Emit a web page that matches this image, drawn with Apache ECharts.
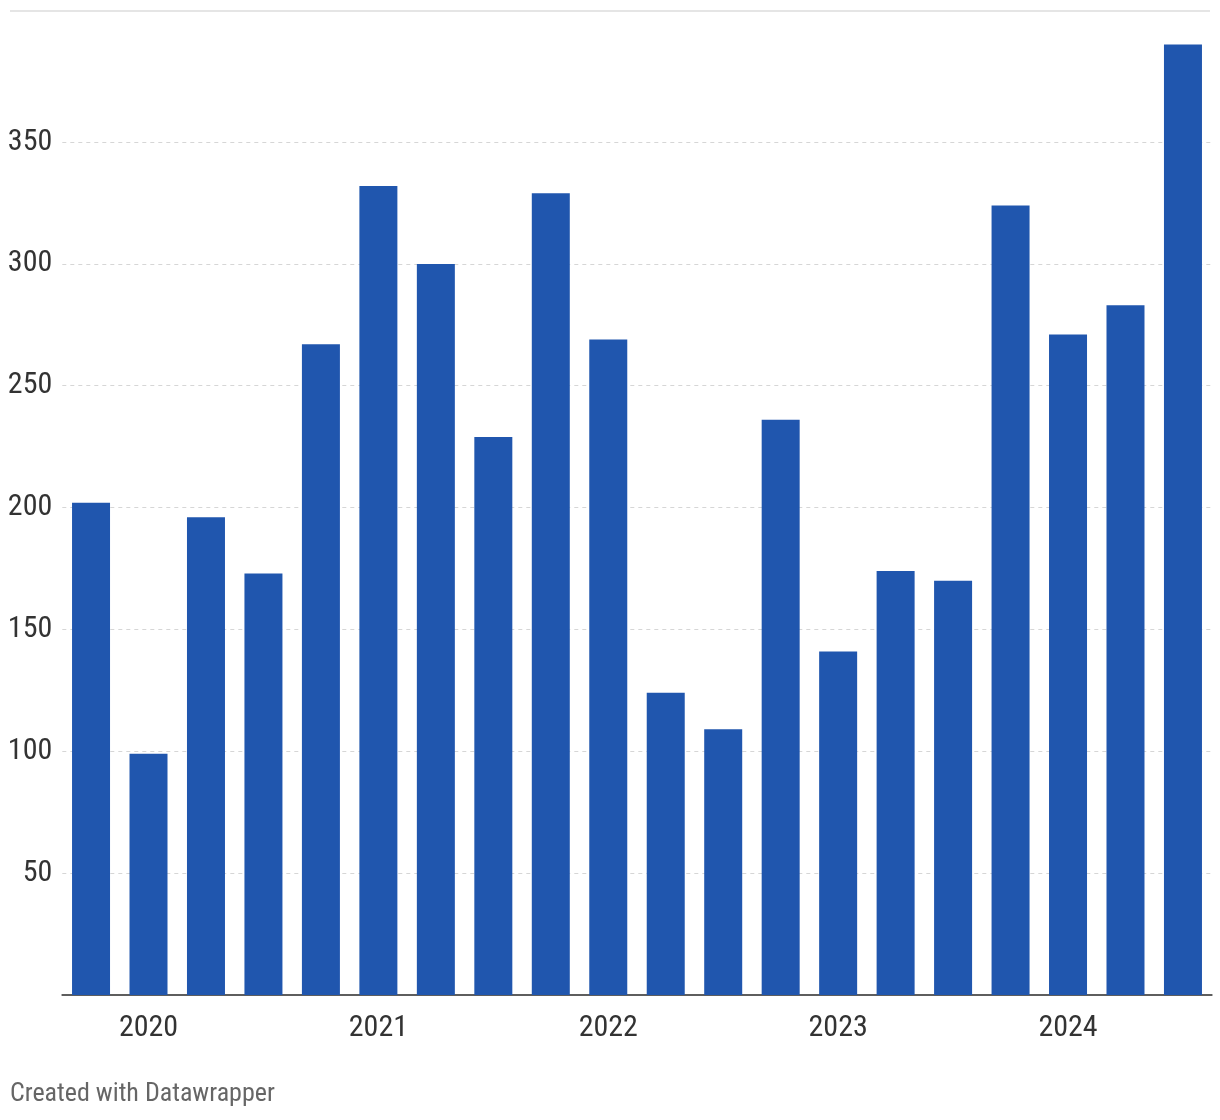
<!DOCTYPE html>
<html><head><meta charset="utf-8">
<script src="https://cdn.jsdelivr.net/npm/echarts@6/dist/echarts.min.js"></script>
<style>html,body{margin:0;padding:0;background:#fff}#c{width:1220px;height:1120px}</style>
</head><body><div id="c"></div>
<script>
const categories = ["2020 Q1","2020 Q2","2020 Q3","2020 Q4","2021 Q1","2021 Q2","2021 Q3","2021 Q4","2022 Q1","2022 Q2","2022 Q3","2022 Q4","2023 Q1","2023 Q2","2023 Q3","2023 Q4","2024 Q1","2024 Q2","2024 Q3","2024 Q4"];
const values = [202,99,196,173,267,332,300,229,329,269,124,109,236,141,174,170,324,271,283,390];
const yTicks = [50,100,150,200,250,300,350];
const FONT = "'Roboto Condensed','Liberation Sans Narrow','Roboto',sans-serif";
const chart = echarts.init(document.getElementById('c'), null, {renderer:'canvas'});
chart.setOption({
  animation:false,
  grid:{left:62.3,right:8.3,top:20.2,bottom:125},
  xAxis:{type:'category',data:categories,
    axisLine:{lineStyle:{color:'#5e5e5e',width:2}},axisTick:{show:false},
    axisLabel:{interval:(i)=>i%4===1,formatter:(v)=>v.slice(0,4),color:'#333',fontFamily:FONT,fontSize:30,margin:18}},
  yAxis:{type:'value',min:0,max:400,interval:50,
    axisLine:{show:false},axisTick:{show:false},
    splitLine:{showMinLine:false,showMaxLine:false,lineStyle:{color:'#d6d6d6',type:[4,4],width:1}},
    axisLabel:{color:'#333',fontFamily:FONT,fontSize:30,margin:10,
      formatter:(v)=>yTicks.includes(v)?String(v):''}},
  series:[{type:'bar',data:values,barWidth:38,itemStyle:{color:'#2056ae'},z:3}],
  graphic:[
    {type:'line',shape:{x1:10,y1:11,x2:1210,y2:11},style:{stroke:'#e5e5e5',lineWidth:2}},
    {type:'text',left:10,top:1081,style:{text:'Created with Datawrapper',fill:'#666',font:'26px '+FONT}}
  ]
});
</script></body></html>
